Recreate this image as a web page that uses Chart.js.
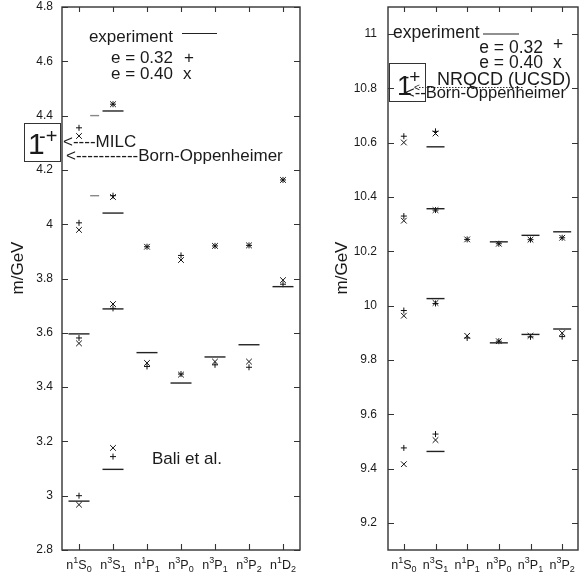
<!DOCTYPE html>
<html>
<head>
<meta charset="utf-8">
<script src="https://cdn.jsdelivr.net/npm/chart.js@4"></script>
<style>
  html, body { margin: 0; padding: 0; background: #fff; }
  #wrap { position: relative; width: 579px; height: 578px; }
  #left { position: absolute; left: 0; top: 0; }
  #right { position: absolute; left: 305px; top: 0; }
</style>
</head>
<body>
<div id="wrap">
  <canvas id="left" width="305" height="578"></canvas>
  <canvas id="right" width="274" height="578"></canvas>
</div>
<script>
// charmonium (left panel)
const charmCats = ['n^1S_0', 'n^3S_1', 'n^1P_1', 'n^3P_0', 'n^3P_1', 'n^3P_2', 'n^1D_2'];
const charmExp = [[2.980, 3.596], [3.097, 3.688, 4.041, 4.417], [3.527], [3.415], [3.511], [3.556], [3.770]];
const charmExpShortX = [1.46, 1.46];
const charmExpShortY = [4.400, 4.105];
const charmE032 = [[3.000, 3.581, 4.005, 4.355], [3.144, 3.690, 4.105, 4.442], [3.476, 3.917], [3.448, 3.885], [3.482, 3.920], [3.473, 3.922], [3.779, 4.163]];
const charmE040 = [[2.967, 3.561, 3.979, 4.325], [3.176, 3.706, 4.100, 4.442], [3.489, 3.917], [3.446, 3.868], [3.494, 3.920], [3.494, 3.922], [3.794, 4.163]];
const charmTicks = [2.8, 3, 3.2, 3.4, 3.6, 3.8, 4, 4.2, 4.4, 4.6, 4.8];

// bottomonium (right panel)
const bottCats = ['n^1S_0', 'n^3S_1', 'n^1P_1', 'n^3P_0', 'n^3P_1', 'n^3P_2'];
const bottExp = [[], [9.463, 10.026, 10.357, 10.585], [], [9.863, 10.235], [9.894, 10.259], [9.914, 10.272]];
const bottE032 = [[9.476, 9.982, 10.330, 10.624], [9.527, 10.008, 10.352, 10.642], [9.881, 10.244], [9.869, 10.228], [9.885, 10.243], [9.886, 10.250]];
const bottE040 = [[9.416, 9.963, 10.313, 10.601], [9.505, 10.010, 10.352, 10.634], [9.889, 10.244], [9.869, 10.228], [9.889, 10.243], [9.899, 10.250]];
const bottTicks = [9.2, 9.4, 9.6, 9.8, 10, 10.2, 10.4, 10.6, 10.8, 11];

const FONT = '"Liberation Sans", Arial, Helvetica, sans-serif';
const INK = '#1a1a1a';
Chart.defaults.font.family = FONT;
Chart.defaults.color = INK;

function toPoints(groups) {
    return groups.flatMap((vals, i) => vals.map(v => ({ x: i + 1, y: v })));
}

function drawCatLabel(ctx, text, cx, baseY) {
    const segs = [];
    for (let i = 0; i < text.length; i++) {
        const c = text[i];
        if (c === '^') { segs.push({ t: text[++i], size: 9, dy: -6 }); }
        else if (c === '_') { segs.push({ t: text[++i], size: 9, dy: 3.5 }); }
        else { segs.push({ t: c, size: 12.5, dy: 0 }); }
    }
    let total = 0;
    segs.forEach(s => {
        ctx.font = s.size + 'px ' + FONT;
        s.w = ctx.measureText(s.t).width;
        total += s.w;
    });
    let x = cx - total / 2;
    ctx.textAlign = 'left';
    ctx.textBaseline = 'alphabetic';
    segs.forEach(s => {
        ctx.font = s.size + 'px ' + FONT;
        ctx.fillText(s.t, x, baseY + s.dy);
        x += s.w;
    });
}

function txt(ctx, s, x, y, size, align) {
    ctx.font = size + 'px ' + FONT;
    ctx.textAlign = align || 'left';
    ctx.textBaseline = 'alphabetic';
    ctx.fillText(s, x, y);
}

function hline(ctx, x1, x2, y, w) {
    ctx.beginPath();
    ctx.lineWidth = w || 1.2;
    ctx.moveTo(x1, y);
    ctx.lineTo(x2, y);
    ctx.stroke();
}

function decorPlugin(cats, ticks, titleX, annotate) {
    return {
        id: 'decor',
        afterDraw(chart) {
            const { ctx, chartArea: a, scales: { x, y } } = chart;
            ctx.save();
            ctx.strokeStyle = '#333';
            ctx.fillStyle = INK;
            ctx.lineWidth = 1.4;
            ctx.strokeRect(a.left, a.top, a.right - a.left, a.bottom - a.top);
            ctx.lineWidth = 1.1;
            ctx.beginPath();
            ticks.forEach(v => {
                const py = Math.round(y.getPixelForValue(v)) + 0.5;
                ctx.moveTo(a.left, py); ctx.lineTo(a.left + 6, py);
                ctx.moveTo(a.right, py); ctx.lineTo(a.right - 6, py);
            });
            cats.forEach((c, i) => {
                const px = Math.round(x.getPixelForValue(i + 1)) + 0.5;
                ctx.moveTo(px, a.bottom); ctx.lineTo(px, a.bottom - 6);
                ctx.moveTo(px, a.top); ctx.lineTo(px, a.top + 5);
            });
            ctx.stroke();
            cats.forEach((c, i) => drawCatLabel(ctx, c, x.getPixelForValue(i + 1), 568.5));
            // y axis title
            ctx.save();
            ctx.translate(titleX, 268);
            ctx.rotate(-Math.PI / 2);
            ctx.font = '17px ' + FONT;
            ctx.textAlign = 'center';
            ctx.textBaseline = 'middle';
            ctx.fillText('m/GeV', 0, 0);
            ctx.restore();
            annotate(ctx);
            ctx.restore();
        }
    };
}

function makeChart(id, opts) {
    const datasets = [
        { data: toPoints(opts.exp), pointStyle: 'line', pointRadius: opts.expHalf, borderColor: '#222', borderWidth: 1.4 },
        { data: toPoints(opts.e032), pointStyle: 'cross', pointRadius: 3, borderColor: '#111', borderWidth: 1 },
        { data: toPoints(opts.e040), pointStyle: 'crossRot', pointRadius: 4, borderColor: '#111', borderWidth: 1 }
    ];
    if (opts.shortX) {
        datasets.push({
            data: opts.shortX.map((xv, i) => ({ x: xv, y: opts.shortY[i] })),
            pointStyle: 'line', pointRadius: 4.5, borderColor: '#888', borderWidth: 1.4
        });
    }
    return new Chart(document.getElementById(id), {
        type: 'scatter',
        data: { datasets },
        options: {
            responsive: false,
            animation: false,
            layout: { padding: opts.padding, autoPadding: false },
            plugins: { legend: { display: false }, tooltip: { enabled: false } },
            elements: { point: { hoverRadius: 0 } },
            scales: {
                x: {
                    type: 'linear', min: 0.5, max: opts.cats.length + 0.5,
                    ticks: { display: false },
                    grid: { display: false, drawTicks: false },
                    border: { display: false },
                    afterFit: s => { s.height = 28; s.paddingLeft = 0; s.paddingRight = 0; }
                },
                y: {
                    type: 'linear', min: opts.min, max: opts.max,
                    afterBuildTicks: s => { s.ticks = opts.ticks.map(v => ({ value: v })); },
                    ticks: { font: { size: 12 }, color: INK, padding: opts.tickPad, callback: v => String(v) },
                    grid: { display: false, drawTicks: false },
                    border: { display: false },
                    afterFit: s => { s.width = opts.axisWidth; s.paddingTop = 0; s.paddingBottom = 0; }
                }
            }
        },
        plugins: [decorPlugin(opts.cats, opts.ticks, opts.titleX, opts.annotate)]
    });
}

makeChart('left', {
    cats: charmCats, exp: charmExp, e032: charmE032, e040: charmE040,
    shortX: charmExpShortX, shortY: charmExpShortY,
    min: 2.8, max: 4.8, ticks: charmTicks, expHalf: 10.5,
    axisWidth: 62, tickPad: 9, titleX: 18,
    padding: { top: 7, right: 5, bottom: 0, left: 0 },
    annotate(ctx) {
        txt(ctx, 'experiment', 173, 42, 17, 'right');
        ctx.strokeStyle = '#222';
        hline(ctx, 182, 217, 33.5, 1.2);
        txt(ctx, 'e = 0.32', 173, 63, 17, 'right');
        txt(ctx, '+', 184, 63, 17);
        txt(ctx, 'e = 0.40', 173, 79, 17, 'right');
        txt(ctx, 'x', 183, 79, 17);
        ctx.lineWidth = 1;
        ctx.strokeStyle = '#333';
        ctx.strokeRect(24.5, 123.5, 36, 38);
        txt(ctx, '1', 28, 154, 30);
        txt(ctx, '-+', 39, 143, 20);
        txt(ctx, '<----MILC', 63, 147, 17);
        txt(ctx, '<-----------Born-Oppenheimer', 66, 161, 17);
        txt(ctx, 'Bali et al.', 152, 464, 17);
    }
});

makeChart('right', {
    cats: bottCats, exp: bottExp, e032: bottE032, e040: bottE040,
    min: 9.1, max: 11.1, ticks: bottTicks, expHalf: 9,
    axisWidth: 83, tickPad: 11, titleX: 37,
    padding: { top: 7, right: 1, bottom: 0, left: 0 },
    annotate(ctx) {
        txt(ctx, 'experiment', 88, 38, 17.5);
        ctx.strokeStyle = '#222';
        hline(ctx, 178, 214, 34, 1.2);
        txt(ctx, 'e = 0.32', 238, 53, 17.5, 'right');
        txt(ctx, '+', 248, 50, 17.5);
        txt(ctx, 'e = 0.40', 238, 68, 17.5, 'right');
        txt(ctx, 'x', 248, 68, 17.5);
        ctx.lineWidth = 1;
        ctx.strokeStyle = '#333';
        ctx.strokeRect(84.5, 63.5, 36, 38);
        txt(ctx, '1', 92, 95, 27);
        txt(ctx, '-+', 98, 83, 19);
        txt(ctx, 'NRQCD (UCSD)', 132, 85, 18);
        txt(ctx, '<', 109, 91, 10);
        ctx.save();
        ctx.setLineDash([1.5, 1.5]);
        hline(ctx, 114, 218, 87.5, 1);
        ctx.restore();
        txt(ctx, '<--Born-Oppenheimer', 100, 98, 16.5);
    }
});
</script>
</body>
</html>
